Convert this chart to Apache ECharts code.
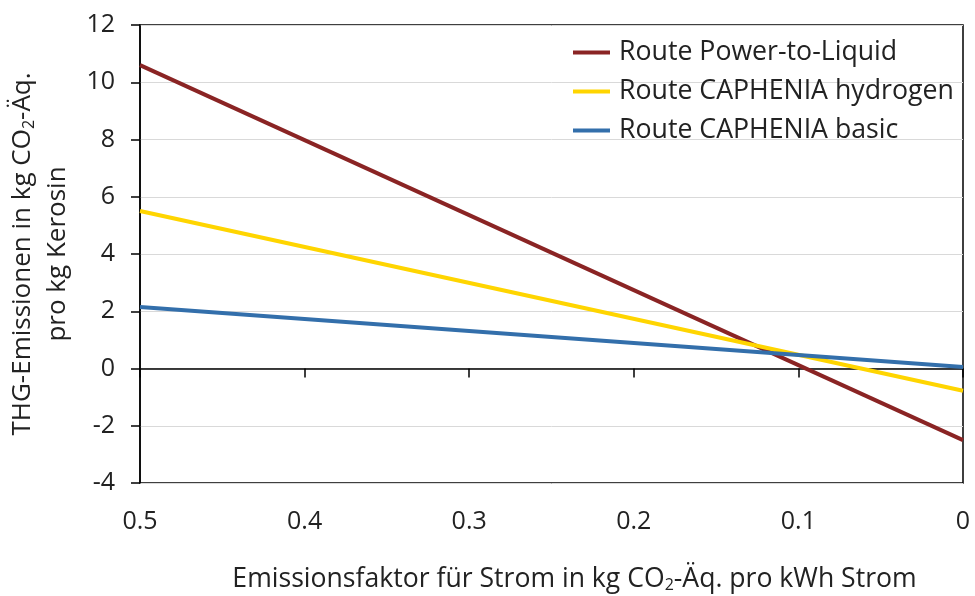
<!DOCTYPE html>
<html>
<head>
<meta charset="utf-8">
<script src="https://cdn.jsdelivr.net/npm/echarts@6/dist/echarts.min.js"></script>
<style>
  html, body { margin: 0; padding: 0; background: #fff; }
  #chart { width: 975px; height: 596px; }
</style>
</head>
<body>
<div id="chart"></div>
<script>
// Emissionsfaktor (kg CO2-Äq./kWh), Achse läuft von 0.5 nach 0
const factors = [0.5, 0]
const seriesNames = ['Route Power-to-Liquid', 'Route CAPHENIA hydrogen', 'Route CAPHENIA basic']
const ptlValues = [10.6, -2.5]
const hydrogenValues = [5.5, -0.78]
const basicValues = [2.15, 0.05]
const xTicks = [0, 0.1, 0.2, 0.3, 0.4, 0.5]
const yTicks = [-4, -2, 0, 2, 4, 6, 8, 10, 12]

const font = '"Open Sans", "Noto Sans", sans-serif'
const colors = ['#8a2424', '#ffd500', '#336fab']
const subStyle = { fontSize: 16, padding: [12, 0, 0, 0], fontFamily: font, color: '#222' }

function pairs(values) {
  return factors.map((f, i) => [f, values[i]])
}

const chart = echarts.init(document.getElementById('chart'))
chart.setOption({
  animation: false,
  color: colors,
  textStyle: { fontFamily: font },
  grid: {
    left: 140,
    right: 12,
    top: 25,
    bottom: 113,
    outerBoundsMode: 'none',
    show: true,
    borderColor: '#000',
    borderWidth: 1.5
  },
  legend: {
    orient: 'vertical',
    left: 568,
    top: 34,
    itemGap: 12,
    itemWidth: 37,
    itemHeight: 4,
    icon: 'rect',
    data: seriesNames,
    textStyle: { fontSize: 26.7, color: '#222', fontFamily: font, lineHeight: 27, padding: [0, 0, 0, 4] }
  },
  xAxis: [
    {
      type: 'value',
      inverse: true,
      min: xTicks[0],
      max: xTicks[xTicks.length - 1],
      interval: 0.1,
      axisLine: { show: false, onZero: false },
      axisTick: { show: false },
      splitLine: { show: false },
      axisLabel: { fontSize: 25, color: '#222', margin: 26, fontFamily: font },
      name: 'Emissionsfaktor für Strom in kg CO{sub|2}-Äq. pro kWh Strom',
      nameLocation: 'middle',
      nameGap: 82,
      nameTextStyle: {
        fontSize: 26.6,
        color: '#222',
        fontFamily: font,
        padding: [0, 0, 0, 46],
        rich: { sub: subStyle }
      }
    },
    {
      // Nulllinie mit Strichen nach unten
      type: 'value',
      inverse: true,
      position: 'bottom',
      min: xTicks[0],
      max: xTicks[xTicks.length - 1],
      interval: 0.1,
      axisLine: { show: true, onZero: true, lineStyle: { color: '#000', width: 1.5 } },
      axisTick: { show: true, length: 9, lineStyle: { color: '#000', width: 1.5 } },
      axisLabel: { show: false },
      splitLine: { show: false }
    }
  ],
  yAxis: {
    type: 'value',
    min: yTicks[0],
    max: yTicks[yTicks.length - 1],
    interval: 2,
    axisLine: { show: true, onZero: false, lineStyle: { color: '#000', width: 1.5 } },
    axisTick: { show: true, length: 9, lineStyle: { color: '#000', width: 1.5 } },
    axisLabel: { fontSize: 25, color: '#222', margin: 25, fontFamily: font },
    splitLine: { show: true, lineStyle: { color: '#d9d9d9', width: 1 } },
    name: 'THG-Emissionen in kg CO{sub|2}-Äq.\npro kg Kerosin',
    nameLocation: 'middle',
    nameRotate: 90,
    nameGap: 58,
    nameTextStyle: {
      fontSize: 26,
      color: '#222',
      fontFamily: font,
      lineHeight: 35,
      rich: { sub: subStyle }
    }
  },
  series: [
    { name: seriesNames[0], type: 'line', data: pairs(ptlValues), showSymbol: false, lineStyle: { width: 4 } },
    { name: seriesNames[1], type: 'line', data: pairs(hydrogenValues), showSymbol: false, lineStyle: { width: 4 } },
    { name: seriesNames[2], type: 'line', data: pairs(basicValues), showSymbol: false, lineStyle: { width: 4 } }
  ]
})
</script>
</body>
</html>
